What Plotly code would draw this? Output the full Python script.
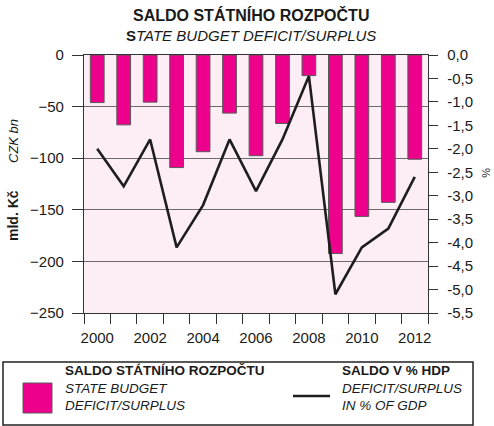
import plotly.graph_objects as go

years = list(range(2000, 2013))
saldo_bn = [-46.1, -67.7, -45.7, -109.1, -93.7, -56.3, -97.6, -66.4, -20.0, -192.4, -156.4, -142.8, -101.0]
saldo_pct = [-2.0, -2.8, -1.8, -4.1, -3.2, -1.8, -2.9, -1.8, -0.45, -5.1, -4.1, -3.7, -2.6]
left_ticks = [0, -50, -100, -150, -200, -250]
right_ticks = [0, -0.5, -1, -1.5, -2, -2.5, -3, -3.5, -4, -4.5, -5, -5.5]
right_ticktext = [("%.1f" % v).replace(".", ",") for v in right_ticks]
right_ticktext[0] = "0,0"
x_labels = [2000, 2002, 2004, 2006, 2008, 2010, 2012]

FONT = "Liberation Sans, Arial, sans-serif"
MAGENTA = "#EC008C"
BG = "#FDEEF5"
W, H = 494, 426
L, R, T, B = 84, 66, 55, 113
PW, PH = W - L - R, H - T - B

def px(xp):
    return (xp - L) / PW

def py(yp):
    return (H - B - yp) / PH

fig = go.Figure()
fig.add_trace(go.Bar(
    x=years, y=saldo_bn, width=0.52,
    marker=dict(color=MAGENTA, line=dict(color="#5a5a5a", width=1)),
    showlegend=False, yaxis="y",
))
fig.add_trace(go.Scatter(
    x=years, y=saldo_pct, mode="lines",
    line=dict(color="#1e1e1e", width=2.6),
    showlegend=False, yaxis="y2",
))

fig.update_layout(
    width=W, height=H,
    margin=dict(l=L, r=R, t=T, b=B, pad=0),
    paper_bgcolor="white", plot_bgcolor=BG,
    font=dict(family=FONT, size=15, color="#1a1a1a"),
    xaxis=dict(
        range=[1999.5, 2012.5], tickvals=x_labels, ticks="",
        showgrid=False, zeroline=False,
        showline=True, linecolor="#333", linewidth=1.3, mirror=True,
        tickfont=dict(size=15), ticklabelstandoff=11,
        minor=dict(tick0=1999.5, dtick=1, ticks="outside", ticklen=10,
                   tickcolor="#333", tickwidth=1.2, showgrid=False),
    ),
    yaxis=dict(
        range=[-250, 0], tickvals=left_ticks, ticks="outside", ticklen=11,
        tickcolor="#333", tickwidth=1.2,
        showgrid=True, gridcolor="#6a6a6a", gridwidth=1.2,
        zeroline=False, showline=True, linecolor="#333", linewidth=1.3,
        mirror=True, tickfont=dict(size=15), ticklabelstandoff=5,
    ),
    yaxis2=dict(
        range=[-5.5, 0], overlaying="y", side="right",
        tickvals=right_ticks, ticktext=right_ticktext,
        ticks="outside", ticklen=9, tickcolor="#333", tickwidth=1.2,
        showgrid=False, zeroline=False, showline=True, linecolor="#333",
        linewidth=1.3, tickfont=dict(size=15), ticklabelstandoff=6,
    ),
    bargap=0.48,
)

ann = []
ann.append(dict(text="<b>SALDO STÁTNÍHO ROZPOČTU</b>", x=px(251), y=py(15),
                font=dict(size=16)))
ann.append(dict(text="<b>S</b><i>TATE BUDGET DEFICIT/SURPLUS</i>", x=px(251), y=py(35),
                font=dict(size=15)))
ann.append(dict(text="<b>mld. Kč</b>", x=px(13), y=py(216), textangle=-90,
                font=dict(size=14)))
ann.append(dict(text="<i>CZK bn</i>", x=px(13), y=py(141), textangle=-90,
                font=dict(size=13)))
ann.append(dict(text="%", x=px(486), y=py(173), textangle=90,
                font=dict(size=11)))
# legend texts
ann.append(dict(text="<b>SALDO STÁTNÍHO ROZPOČTU</b><br><i>STATE BUDGET</i><br><i>DEFICIT/SURPLUS</i>",
                x=px(63), y=py(388), xanchor="left", align="left",
                font=dict(size=13.5)))
ann.append(dict(text="<b>SALDO V % HDP</b><br><i>DEFICIT/SURPLUS</i><br><i>IN % OF GDP</i>",
                x=px(340), y=py(388), xanchor="left", align="left",
                font=dict(size=13.5)))
for a in ann:
    a.setdefault("xanchor", "center")
    a.update(xref="paper", yref="paper", yanchor="middle", showarrow=False)
fig.update_layout(annotations=ann)

shapes = [
    dict(type="rect", x0=px(3), x1=px(473), y0=py(362), y1=py(425),
         line=dict(color="#222", width=1.5), fillcolor="white"),
    dict(type="rect", x0=px(23), x1=px(52), y0=py(383), y1=py(413),
         line=dict(color="#5a5a5a", width=1), fillcolor=MAGENTA),
    dict(type="line", x0=px(293), x1=px(330), y0=py(396), y1=py(396),
         line=dict(color="#1e1e1e", width=2.6)),
]
for s in shapes:
    s.update(xref="paper", yref="paper")
fig.update_layout(shapes=shapes)

fig.write_html("out.html", config={"displayModeBar": False},
               post_script="document.body.style.margin='0';document.body.style.overflow='hidden';")
